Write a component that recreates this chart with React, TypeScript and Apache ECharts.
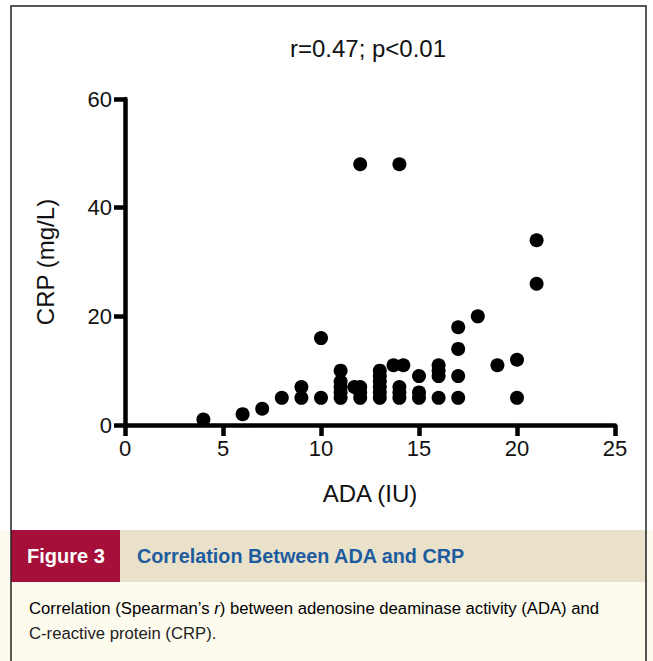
import React, { useEffect, useRef } from "react";
import * as echarts from "echarts";

// ADA (IU) on x, CRP (mg/L) on y
const adaValues = [4, 6, 7, 8, 9, 9, 10, 10, 11, 11, 11, 11, 11, 11.7, 12, 12, 12, 12, 13, 13, 13, 13, 13, 13, 13.7, 14.2, 14, 14, 14, 14, 15, 15, 15, 16, 16, 16, 16, 17, 17, 17, 17, 18, 19, 20, 20, 21, 21];
const crpValues = [1, 2, 3, 5, 7, 5, 16, 5, 10, 8, 7, 6, 5, 7, 48, 7, 6, 5, 10, 9, 8, 7, 6, 5, 11, 11, 48, 7, 6, 5, 9, 6, 5, 11, 10, 9, 5, 18, 14, 9, 5, 20, 11, 12, 5, 34, 26];

const xTicks = [0, 5, 10, 15, 20, 25];
const yTicks = [0, 20, 40, 60];

const titleText = "r=0.47; p<0.01";
const xName = "ADA (IU)";
const yName = "CRP (mg/L)";
const figLabel = "Figure 3";
const figTitle = "Correlation Between ADA and CRP";
const captionLine1a = "Correlation (Spearman\u2019s ";
const captionLine1b = "r";
const captionLine1c = ") between adenosine deaminase activity (ADA) and";
const captionLine2 = "C-reactive protein (CRP).";

export default function App() {
  const ref = useRef<HTMLDivElement>(null);
  useEffect(() => {
    document.body.style.margin = "0";
    const chart = echarts.init(ref.current!, null, { renderer: "svg" });
    const font = "'Liberation Sans', Arial, sans-serif";
    const data = adaValues.map((x, i) => [x, crpValues[i]]);
    chart.setOption({
      animation: false,
      backgroundColor: "#ffffff",
      grid: { left: 125, right: 38, top: 99, bottom: 236, containLabel: false },
      xAxis: {
        type: "value",
        min: xTicks[0],
        max: xTicks[xTicks.length - 1],
        interval: 5,
        name: xName,
        nameLocation: "middle",
        nameGap: 56,
        nameTextStyle: { fontFamily: font, fontSize: 24, color: "#111" },
        axisLine: { show: true, onZero: false, lineStyle: { color: "#000", width: 4.5, cap: "round" } },
        axisTick: { show: true, length: 11, lineStyle: { color: "#000", width: 4.5 } },
        axisLabel: { margin: 12, fontFamily: font, fontSize: 22, color: "#111" },
        splitLine: { show: false },
      },
      yAxis: {
        type: "value",
        min: yTicks[0],
        max: yTicks[yTicks.length - 1],
        interval: 20,
        name: yName,
        nameLocation: "middle",
        nameGap: 68,
        nameTextStyle: { fontFamily: font, fontSize: 24, color: "#111" },
        axisLine: { show: true, onZero: false, lineStyle: { color: "#000", width: 4.5, cap: "round" } },
        axisTick: { show: true, length: 11, lineStyle: { color: "#000", width: 4.5 } },
        axisLabel: { margin: 13, fontFamily: font, fontSize: 22, color: "#111" },
        splitLine: { show: false },
      },
      series: [
        {
          type: "scatter",
          data,
          symbol: "circle",
          symbolSize: 14,
          itemStyle: { color: "#000", opacity: 1 },
          clip: false,
        },
      ],
      graphic: [
        {
          type: "rect",
          shape: { x: 0, y: 530, width: 653, height: 131 },
          style: { fill: "#fdfaee" },
          z: -1,
        },
        {
          type: "rect",
          shape: { x: 11, y: 530, width: 635, height: 52 },
          style: { fill: "#e9e1ca" },
        },
        {
          type: "rect",
          shape: { x: 11, y: 530, width: 109, height: 52 },
          style: { fill: "#a50f3a" },
        },
        {
          type: "rect",
          shape: { x: 11, y: 6, width: 635, height: 670 },
          style: { fill: null, stroke: "#222", lineWidth: 1.5 },
        },
        {
          type: "text",
          x: 368,
          y: 48,
          style: { text: titleText, align: "center", verticalAlign: "middle", font: `24px ${font}`, fill: "#111" },
        },
        {
          type: "text",
          x: 27,
          y: 556,
          style: { text: figLabel, verticalAlign: "middle", font: `bold 20px ${font}`, fill: "#ffffff" },
        },
        {
          type: "text",
          x: 137,
          y: 556,
          style: { text: figTitle, verticalAlign: "middle", font: `bold 19.8px ${font}`, fill: "#1d5c9e" },
        },
        {
          type: "text",
          x: 29,
          y: 608,
          style: {
            text: `{n|${captionLine1a}}{i|${captionLine1b}}{n|${captionLine1c}}`,
            verticalAlign: "middle",
            rich: {
              n: { fontFamily: font, fontSize: 16.7, color: "#222" },
              i: { fontFamily: font, fontSize: 16.7, fontStyle: "italic", color: "#222" },
            },
          },
        },
        {
          type: "text",
          x: 29,
          y: 633,
          style: { text: captionLine2, verticalAlign: "middle", font: `16.7px ${font}`, fill: "#222" },
        },
      ],
    });
    return () => chart.dispose();
  }, []);
  return <div ref={ref} style={{ width: 653, height: 661 }} />;
}
